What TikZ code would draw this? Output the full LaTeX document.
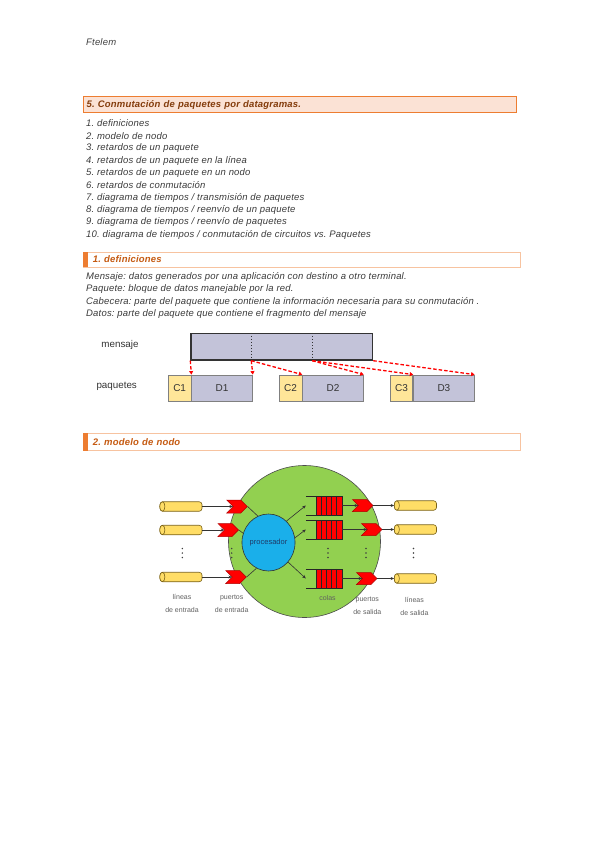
\documentclass[tikz,border=0pt]{standalone}
\definecolor{NETorange}{HTML}{ED7D31}
\definecolor{NETpeach}{HTML}{FBE2D5}
\definecolor{NETlight}{HTML}{F7C3A0}
\definecolor{NETbrown}{HTML}{843C0C}
\definecolor{NETrust}{HTML}{C55A11}
\definecolor{NETtext}{HTML}{3A3A3A}
\definecolor{NETlilac}{HTML}{C3C3D9}
\definecolor{NETcream}{HTML}{FFE699}
\definecolor{NETgray}{HTML}{808080}
\definecolor{NETgreen}{HTML}{92D050}
\definecolor{NETblue}{HTML}{1AAFEA}
\definecolor{NETnavy}{HTML}{1F3A68}
\definecolor{NETred}{HTML}{FF0000}
\definecolor{NETdarkred}{HTML}{B00000}
\definecolor{NETyellow}{HTML}{FFDD66}
\definecolor{NETolive}{HTML}{7A6218}
\definecolor{NETlabel}{HTML}{606060}
\usepackage{fontspec}
\setmainfont{Liberation Sans}
\newfontfamily\docfont[LetterSpace=2]{Liberation Sans}
\frenchspacing
\usetikzlibrary{arrows.meta, positioning, calc, shapes.geometric, shapes.symbols}

\begin{document}
\begin{tikzpicture}[x=1pt, y=-1pt,
   body/.style={anchor=west, inner sep=0pt, text=NETtext, font=\docfont\fontsize{9.5}{11}\selectfont\itshape},
   secmain/.style={draw=NETorange, line width=1.2pt, fill=NETpeach, anchor=north west,
      minimum width=433, minimum height=16, text width=427pt, inner sep=0pt, align=left,
      text=NETbrown, font=\docfont\fontsize{9.5}{11}\selectfont\bfseries\itshape},
   secsub/.style={draw=NETlight, line width=0.8pt, fill=white, anchor=north west,
      minimum width=437, minimum height=15, text width=418pt, inner sep=0pt, align=left,
      text=NETrust, font=\docfont\fontsize{9.5}{11}\selectfont\bfseries\itshape},
   tag/.style={inner sep=0pt, text=black!80, font=\fontsize{9.8}{11}\selectfont},
   msgbox/.style={draw=black!80, line width=1.4pt, fill=NETlilac, minimum width=181.5,
      minimum height=26.5, inner sep=0pt},
   hdrbox/.style={draw=NETgray, line width=0.8pt, fill=NETcream, minimum width=22.7,
      minimum height=26, inner sep=0pt, text=black!80, font=\fontsize{10}{11}\selectfont},
   databox/.style={hdrbox, fill=NETlilac, minimum width=60.6},
   split/.style={NETred, dashed, dash pattern=on 3.5pt off 2pt, line width=1.3pt,
      -{Triangle[length=3.5pt, width=4pt]}},
   router/.style={circle, draw=black!70, line width=0.6pt, fill=NETgreen, minimum size=152, inner sep=0pt},
   cpu/.style={ellipse, draw=black!80, line width=0.6pt, fill=NETblue, minimum width=52,
      minimum height=57, inner sep=0pt, text=NETnavy, font=\fontsize{7.5}{8}\selectfont},
   wire/.style={rectangle, rounded corners=2.8pt, draw=NETolive, line width=0.6pt,
      fill=NETyellow, minimum width=42, minimum height=9.5, inner sep=0pt},
   wireend/.style={draw=NETolive, line width=0.6pt, fill=NETyellow},
   port/.style={signal, signal to=east, signal from=west, fill=NETred, draw=NETdarkred,
      line width=0.5pt, minimum width=20.5, minimum height=13, inner sep=0pt},
   queue/.style={rectangle, minimum width=36, minimum height=19, inner sep=0pt},
   qline/.style={black!85, line width=0.6pt},
   link/.style={black!80, line width=0.6pt},
   feed/.style={link, -{Stealth[length=3.5pt, width=3pt]}},
   lbl/.style={inner sep=0pt, align=center, text=NETlabel, font=\fontsize{7}{13}\selectfont}
]
\useasboundingbox (0,0) rectangle (599,848);

% Page header
\node[body, text=black!75] (ftelem) at (86,42) {Ftelem};

% Section title
\node[secmain] (sec5) at (83,96) {5. Conmutación de paquetes por datagramas.};

% Contents
\foreach \txt [count=\i] in {1. definiciones, 2. modelo de nodo, 3. retardos de un paquete,
   4. retardos de un paquete en la línea, 5. retardos de un paquete en un nodo,
   6. retardos de conmutación, 7. diagrama de tiempos / transmisión de paquetes,
   8. diagrama de tiempos / reenvío de un paquete, 9. diagrama de tiempos / reenvío de paquetes,
   10. diagrama de tiempos / conmutación de circuitos vs. Paquetes}
   \node[body] (toc\i) at (86,{123.5+12.35*(\i-1)}) {\txt};

% 1. definiciones
\node[secsub] (sec1) at (83,251.5) {1. definiciones};
\fill[NETorange] (sec1.north west) rectangle ([xshift=4.5pt]sec1.south west);
\foreach \txt [count=\i] in {Mensaje: datos generados por una aplicación con destino a otro terminal.,
   Paquete: bloque de datos manejable por la red.,
   Cabecera: parte del paquete que contiene la información necesaria para su conmutación .,
   Datos: parte del paquete que contiene el fragmento del mensaje}
   \node[body] (def\i) at (86,{277+12.3*(\i-1)}) {\txt};

% Message split into packets
\node[tag] (msgtag) at (120,345) {mensaje};
\node[msgbox] (msg) at (281.75,346.75) {};
\coordinate (cut1) at ($(msg.south west)!1/3!(msg.south east)$);
\coordinate (cut2) at ($(msg.south west)!2/3!(msg.south east)$);
\draw[black!80, dotted, line width=1pt] (cut1 |- msg.north) -- (cut1);
\draw[black!80, dotted, line width=1pt] (cut2 |- msg.north) -- (cut2);

\node[tag] (pkttag) at (116.7,386) {paquetes};
\node[hdrbox] (c1) at (179.65,388) {C1};
\node[databox, right=0pt of c1] (d1) {D1};
\node[hdrbox, right=26pt of d1] (c2) {C2};
\node[databox, right=0pt of c2] (d2) {D2};
\node[hdrbox, right=26pt of d2] (c3) {C3};
\node[databox, right=0pt of c3] (d3) {D3};

\draw[split] (msg.south west) -- (d1.north west);
\draw[split] (cut1) -- (d1.north east);
\draw[split] (cut1) -- (d2.north west);
\draw[split] (cut2) -- (d2.north east);
\draw[split] (cut2) -- (d3.north west);
\draw[split] (msg.south east) -- (d3.north east);

% 2. modelo de nodo
\node[secsub, minimum height=17] (sec2) at (83,433) {2. modelo de nodo};
\fill[NETorange] (sec2.north west) rectangle ([xshift=4.5pt]sec2.south west);

\node[router] (node) at (304.5,541.5) {};
\node[cpu] (cpu) at (268.5,542.5) {procesador};

% input side
\foreach \n/\y/\px/\a in {1/506.5/237/112, 2/530/228.3/160, 3/577/236/245} {
   \node[wire] (lin\n) at (181,\y) {};
   \draw[wireend] ([xshift=2.6pt]lin\n.west) ellipse (2.6 and 4.75);
   \node[port] (pin\n) at (\px,\y) {};
   \draw[feed] (lin\n.east) -- (pin\n.west);
   \draw[link] (pin\n.east) -- (cpu.\a);
}

% output side
\foreach \n/\y/\px/\a in {1/505.5/362.7/50, 2/529.5/371.7/10, 3/578.5/366.7/-45} {
   \node[queue] (q\n) at (324,\y) {};
   \fill[NETred] ([xshift=10pt]q\n.north west) rectangle (q\n.south east);
   \foreach \k in {0,...,4}
      \draw[qline] ([xshift={(10+5.2*\k)*1pt}]q\n.north west) -- ([xshift={(10+5.2*\k)*1pt}]q\n.south west);
   \draw[qline] (q\n.north west) -- (q\n.north east) -- (q\n.south east) -- (q\n.south west);
   \node[port, minimum height=12] (pout\n) at (\px,\y) {};
   \node[wire] (lout\n) at (415.5,\y) {};
   \draw[wireend] ([xshift=2.6pt]lout\n.west) ellipse (2.6 and 4.75);
   \draw[feed] (cpu.\a) -- (q\n.west);
   \draw[feed] (q\n.east) -- (pout\n.west);
   \draw[feed] (pout\n.east) -- (lout\n.west);
}

% vertical dots
\foreach \x in {182.3, 231.7, 328, 366, 413.5}
   \foreach \y in {548.5, 553, 557.5}
      \fill[black!75] (\x,\y) circle (0.8pt);

% labels
\node[lbl] (lblin) at (182,603.5) {líneas\\de entrada};
\node[lbl] (lblpin) at (231.7,603.5) {puertos\\de entrada};
\node[lbl] (lblq) at (327.5,598.3) {colas};
\node[lbl] (lblpout) at (367.3,605.5) {puertos\\de salida};
\node[lbl] (lblout) at (414.5,606) {líneas\\de salida};
\end{tikzpicture}
\end{document}
